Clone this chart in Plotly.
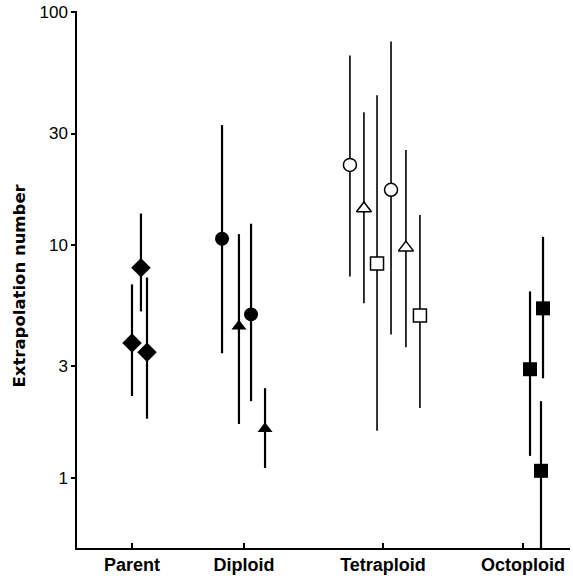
import plotly.graph_objects as go

# ---- data ----
categories = ["Parent", "Diploid", "Tetraploid", "Octoploid"]
category_pos = [1.0, 2.0, 3.241, 4.491]

# each point: group index, offset from category position, value, upper, lower, symbol
point_group = [0, 0, 0,
               1, 1, 1, 1,
               2, 2, 2, 2, 2, 2,
               3, 3, 3]
point_offset = [0.0, 0.08, 0.134,
                -0.196, -0.045, 0.063, 0.188,
                -0.295, -0.17, -0.053, 0.072, 0.205, 0.33,
                0.063, 0.179, 0.161]
point_value = [3.78, 7.97, 3.45,
               10.6, 4.46, 5.02, 1.62,
               22.0, 14.3, 8.30, 17.2, 9.71, 4.97,
               2.92, 5.33, 1.07]
point_upper = [6.75, 13.6, 7.23,
               32.6, 11.1, 12.3, 2.42,
               64.9, 37.0, 43.8, 74.5, 25.5, 13.4,
               6.30, 10.8, 2.13]
point_lower = [2.24, 5.17, 1.79,
               3.42, 1.70, 2.13, 1.10,
               7.30, 5.60, 1.59, 4.12, 3.63, 1.99,
               1.24, 2.67, 0.45]
point_symbol = ["diamond", "diamond", "diamond",
                "circle", "triangle-up", "circle", "triangle-up",
                "circle-open", "triangle-up-open", "square-open",
                "circle-open", "triangle-up-open", "square-open",
                "square", "square", "square"]

y_tickvals = [1, 3, 10, 30, 100]
y_ticktext = ["1", "3", "10", "30", "100"]
y_title = "Extrapolation number"

marker_size = {"diamond": 15, "circle": 14, "triangle-up": 13,
               "circle-open": 13, "triangle-up-open": 13, "square-open": 13,
               "square": 14}

fig = go.Figure()
for i in range(len(point_value)):
    sym = point_symbol[i]
    is_open = sym.endswith("-open")
    x = category_pos[point_group[i]] + point_offset[i]
    v = point_value[i]
    fig.add_trace(go.Scatter(
        x=[x], y=[v], mode="markers",
        marker=dict(symbol=sym.replace("-open", ""),
                    size=marker_size[sym],
                    color="white" if is_open else "black",
                    line=dict(color="black", width=1.5 if is_open else 0)),
        error_y=dict(type="data", symmetric=False,
                     array=[point_upper[i] - v],
                     arrayminus=[v - point_lower[i]],
                     color="black", thickness=1.6 if is_open else 2.2, width=0),
        showlegend=False, cliponaxis=True, hoverinfo="skip",
    ))

fig.update_layout(
    width=573, height=580,
    margin=dict(l=77, r=3, t=11, b=32),
    plot_bgcolor="white", paper_bgcolor="white",
    font=dict(family="Liberation Sans, Arial, sans-serif", color="black"),
)
fig.update_xaxes(
    range=[0.509, 4.911], tickvals=category_pos,
    ticktext=["<b>%s</b>" % c for c in categories],
    showgrid=False, zeroline=False, showline=True, linecolor="black", linewidth=1.5,
    ticks="inside", ticklen=5, tickwidth=1.5, tickcolor="black",
    tickfont=dict(size=18, family="Liberation Sans, Arial, sans-serif"),
    automargin=False,
)
fig.update_yaxes(
    type="log", range=[-0.302, 2.003], tickvals=y_tickvals, ticktext=y_ticktext,
    showgrid=False, zeroline=False, showline=True, linecolor="black", linewidth=1.5,
    ticks="outside", ticklen=4, tickwidth=1.5, tickcolor="black",
    tickfont=dict(size=17), ticklabeloverflow="allow",
    automargin=False,
)
# y-axis title placed as a rotated annotation left of the tick labels
fig.add_annotation(
    text="<b>%s</b>" % y_title, textangle=-90,
    xref="paper", yref="paper", x=0, y=0.5,
    xanchor="center", yanchor="middle", xshift=-58, yshift=-6,
    showarrow=False, font=dict(size=16.5, family="DejaVu Sans, sans-serif"),
)

# remove the page's default body margin so the figure sits at the window's corner
fig.write_html("out.html", config={"displayModeBar": False},
               post_script="document.body.style.margin='0px';")
